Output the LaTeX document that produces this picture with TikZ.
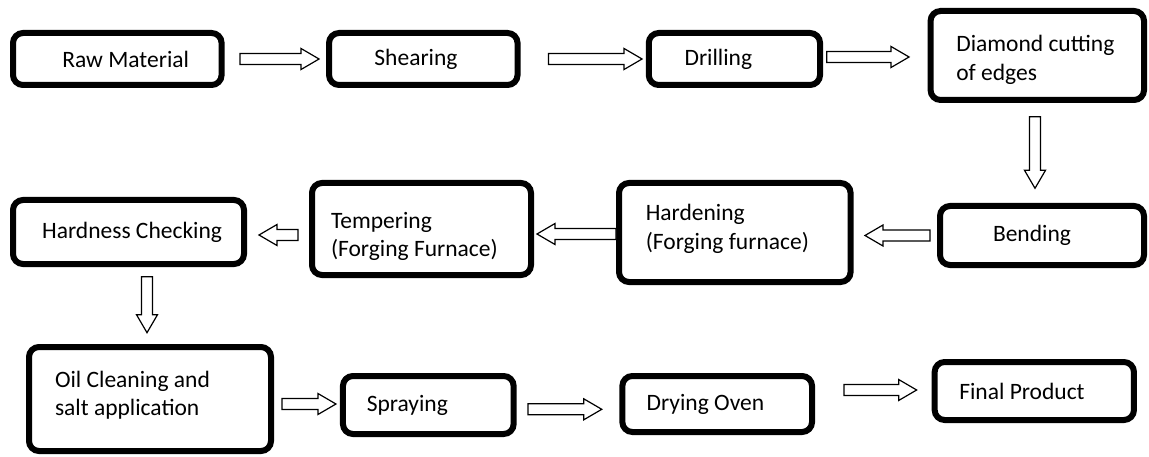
\documentclass[tikz,border=0pt]{standalone}
\usepackage{fontspec}
\setmainfont{Carlito}
\usetikzlibrary{calc}

\tikzset{
  stage/.style={draw, line width=6pt, rounded corners=10pt, inner xsep=0pt,
    align=flush left, font=\fontsize{23.5pt}{28.5pt}\selectfont},
  hollow/.style={draw, line width=1.2pt, fill=white, line join=miter}
}
% fat outlined arrow between two points
\newcommand\flowarrow[2]{%
  \draw[hollow] let \p1=#1, \p2=#2, \n1={atan2(\y2-\y1,\x2-\x1)},
    \n2={veclen(\x2-\x1,\y2-\y1)} in [shift={(\p1)}, rotate=\n1]
    (0,-5.5) -- (\n2-18,-5.5) -- (\n2-18,-10.5) -- (\n2,0) -- (\n2-18,10.5)
    -- (\n2-18,5.5) -- (0,5.5) -- cycle;}

\begin{document}
\begin{tikzpicture}[x=1pt,y=1pt]
    \useasboundingbox (0,0) rectangle (1149,456);
    % first row
    \node[stage, align=flush right, minimum width=208.6pt, minimum height=52pt, text width=143.4pt] (raw) at (117.3,397) {Raw Material};
    \node[stage, minimum width=188.5pt, minimum height=52pt, text width=97.7pt] (shear) at (423.3,397) {Shearing};
    \node[stage, minimum width=171.3pt, minimum height=52pt, text width=99.7pt] (drill) at (734.4,397) {Drilling};
    \node[stage, minimum width=213.5pt, minimum height=89pt, text width=162pt] (diamond) at (1037.3,400.5) {\rule{0pt}{25.5pt}Diamond~cutting\\of edges};
    % second row
    \node[stage, minimum width=204pt, minimum height=59pt, text width=98pt] (bend) at (1042,220.5) {Bending};
    \node[stage, minimum width=231.6pt, minimum height=99pt, text width=178pt] (harden) at (734.8,223.5) {Hardening\\(Forging furnace)\rule[-11pt]{0pt}{11pt}};
    \node[stage, minimum width=219pt, minimum height=92pt, text width=181pt] (temper) at (421.5,227) {\rule{0pt}{31pt}Tempering\\(Forging Furnace)};
    \node[stage, align=flush right, minimum width=231pt, minimum height=64pt, text width=187pt] (hard) at (128.5,224) {Hardness Checking};
    % third row
    \node[stage, minimum width=242pt, minimum height=104pt, text width=190pt] (oil) at (150,57) {Oil Cleaning and\\salt application\rule[-11pt]{0pt}{11pt}};
    \node[stage, minimum width=170.7pt, minimum height=58pt, text width=123pt] (spray) at (428.3,51) {Spraying};
    \node[stage, minimum width=189.7pt, minimum height=56pt, text width=141pt] (dry) at (717.2,52) {Drying Oven};
    \node[stage, minimum width=199.3pt, minimum height=58pt, text width=150pt] (final) at (1034.3,65) {Final Product};

    % arrows
    \flowarrow{($(raw.east)+(15.4,0)$)}{($(shear.west)+(-7,0)$)}
    \flowarrow{($(shear.east)+(28,0)$)}{($(drill.west)+(-3.7,0)$)}
    \flowarrow{($(drill.east)+(3.6,2)$)}{($(drill.east -| diamond.west)+(-18.5,2)$)}
    \flowarrow{($(diamond.south)+(-2.3,-13.7)$)}{($(diamond.south |- bend.north)+(-2.3,14.7)$)}
    \flowarrow{($(bend.west)+(-7,0)$)}{($(bend.west -| harden.east)+(11.4,0)$)}
    \flowarrow{($(harden.west)+(0,-1.5)$)}{($(harden.west -| temper.east)+(3,-1.5)$)}
    \flowarrow{($(hard.east -| temper.west)+(-11,-3)$)}{($(hard.east)+(12,-3)$)}
    \flowarrow{($(hard.south)+(18.5,-9.7)$)}{($(hard.south |- oil.north)+(18.5,11.3)$)}
    \flowarrow{($(spray.west -| oil.east)+(8,1)$)}{($(spray.west)+(-4,1)$)}
    \flowarrow{($(spray.east)+(11.3,-4.3)$)}{($(spray.east -| dry.west)+(-17.6,-4.3)$)}
    \flowarrow{($(final.west -| dry.east)+(29,1)$)}{($(final.west)+(-15,1)$)}
\end{tikzpicture}
\end{document}
